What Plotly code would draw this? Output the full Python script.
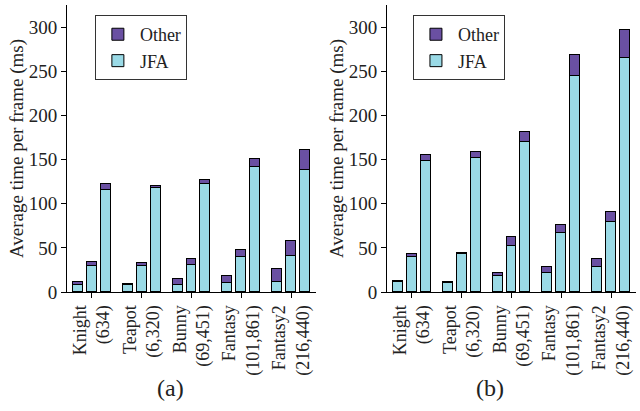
import plotly.graph_objects as go

models = ["Knight<br>(634)", "Teapot<br>(6,320)", "Bunny<br>(69,451)", "Fantasy<br>(101,861)", "Fantasy2<br>(216,440)"]
variant_offsets = [-0.28, 0.0, 0.28]

# (a) values: per model, three bars
a_jfa = [[8, 30, 116], [7.5, 30, 117.5], [7.6, 30.6, 122.8], [9.8, 39.3, 141], [11.3, 40.8, 137.9]]
a_total = [[11.3, 34, 122], [9.4, 32.5, 120.5], [14.7, 37, 127], [18.5, 47.2, 150.7], [25.7, 57.4, 160.6]]
# (b) values
b_jfa = [[11.3, 40, 148.8], [10.2, 42.7, 152.2], [18.5, 52.5, 169.6], [21.5, 67.2, 244.8], [28, 79, 264.8]]
b_total = [[12.5, 42.7, 155.3], [11.3, 44.6, 159], [21.2, 62.3, 181.3], [28.3, 75.9, 268.6], [37.4, 91, 296.2]]

C_OTHER = "#6A50A2"
C_JFA = "#9ADAE6"
FONT = "Times New Roman"
TXT = "#222222"

def flat(arr):
    xs, ys = [], []
    for i, row in enumerate(arr):
        for j, v in enumerate(row):
            xs.append(i + variant_offsets[j])
            ys.append(v)
    return xs, ys

fig = go.Figure()
for k, (jfa, total) in enumerate([(a_jfa, a_total), (b_jfa, b_total)]):
    xa = "x" if k == 0 else "x2"
    ya = "y" if k == 0 else "y2"
    lg = "legend" if k == 0 else "legend2"
    xs, yj = flat(jfa)
    _, yt = flat(total)
    yo = [t - j for t, j in zip(yt, yj)]
    fig.add_trace(go.Bar(x=xs, y=yj, width=0.2, name="JFA", marker=dict(color=C_JFA, line=dict(color="black", width=1)),
                         xaxis=xa, yaxis=ya, legend=lg))
    fig.add_trace(go.Bar(x=xs, y=yo, width=0.2, name="Other", marker=dict(color=C_OTHER, line=dict(color="black", width=1)),
                         xaxis=xa, yaxis=ya, legend=lg))

W, H = 640, 411
l, r, t, b = 67, 4, 5, 119
pw, ph = W - l - r, H - t - b

anns = []
for txt, px in [("(a)", 170), ("(b)", 490)]:
    anns.append(dict(text=txt, x=(px - l) / pw, y=(H - b - 388) / ph, xref="paper", yref="paper",
                     showarrow=False, font=dict(family=FONT, size=24, color=TXT), xanchor="center", yanchor="middle"))

legend_common = dict(font=dict(family=FONT, size=18, color=TXT), bordercolor="#333333", borderwidth=1,
                     traceorder="reversed", xanchor="left", yanchor="top", bgcolor="white",
                     tracegroupgap=0, itemwidth=34)

fig.update_layout(
    width=W, height=H,
    margin=dict(l=l, r=r, t=t, b=b, autoexpand=False),
    plot_bgcolor="white", paper_bgcolor="white",
    barmode="stack", bargap=0,
    font=dict(family=FONT, color=TXT, size=18),
    xaxis=dict(domain=[0, 0.4376], anchor="y"),
    yaxis=dict(domain=[0, 1], anchor="x"),
    xaxis2=dict(domain=[0.5624, 1], anchor="y2"),
    yaxis2=dict(domain=[0, 1], anchor="x2"),
    legend=dict(legend_common, x=0.049, y=0.965),
    legend2=dict(legend_common, x=0.608, y=0.965),
    annotations=anns,
)
fig.update_xaxes(showline=True, linecolor="black", linewidth=1, ticks="outside", tickcolor="black",
                 ticklen=5, showgrid=False, zeroline=False, automargin=False,
                 tickmode="array", tickvals=list(range(len(models))), ticktext=models,
                 tickangle=-90, range=[-0.5, 4.5],
                 tickfont=dict(family=FONT, size=18, color=TXT))
fig.update_yaxes(showline=True, linecolor="black", linewidth=1, ticks="outside", tickcolor="black",
                 ticklen=5, showgrid=False, zeroline=False, automargin=False,
                 range=[0, 325], tickmode="array", tickvals=[0, 50, 100, 150, 200, 250, 300],
                 tickfont=dict(family=FONT, size=19, color=TXT),
                 title=dict(text="Average time per frame (ms)", font=dict(family=FONT, size=19, color=TXT), standoff=0))

fig.write_html("out.html", config={"displayModeBar": False},
               post_script="document.body.style.margin='0';document.body.style.overflow='hidden';")
